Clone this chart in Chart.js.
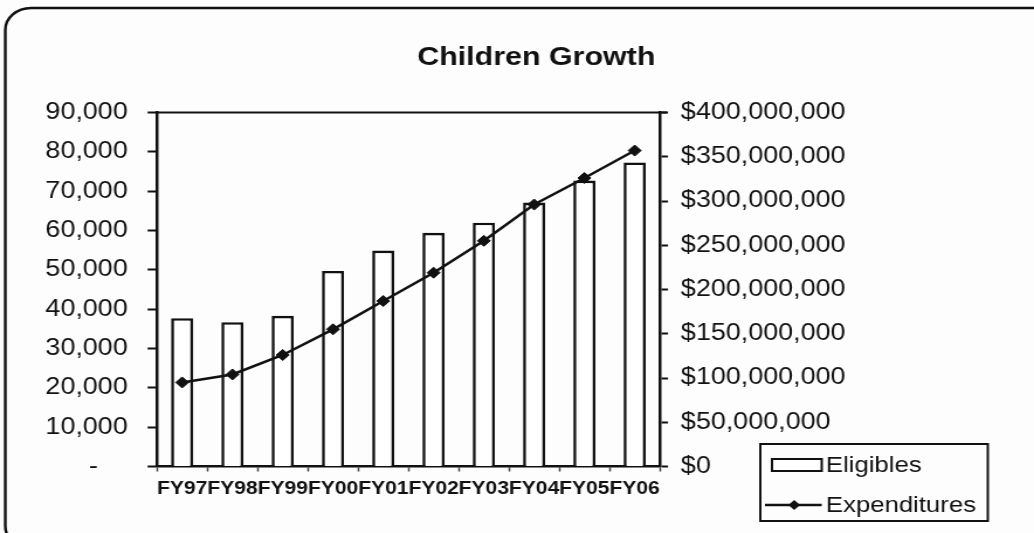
<!DOCTYPE html>
<html><head><meta charset="utf-8">
<script src="https://cdn.jsdelivr.net/npm/chart.js@4.4.1/dist/chart.umd.min.js"></script>
<style>
html,body{margin:0;padding:0;background:#fff;overflow:hidden;}
#c{display:block;transform-origin:0 0;transform:scaleX(1.1697);}
</style></head><body>
<canvas id="c" width="884" height="533"></canvas>
<script>
const categories = ['FY97','FY98','FY99','FY00','FY01','FY02','FY03','FY04','FY05','FY06'];
const eligibles = [37700, 36700, 38300, 49700, 54900, 59400, 62000, 67100, 72700, 77300];
const expenditures = [95000000, 104000000, 126000000, 155000000, 187000000, 219000000, 255000000, 296000000, 326000000, 357000000];
const leftAxisMax = 90000, leftAxisStep = 10000;
const rightAxisMax = 400000000, rightAxisStep = 50000000;
const titleText = 'Children Growth';

const FONT = "'Liberation Sans', Arial, Helvetica, sans-serif";
const INK = '#111';

const decor = {
  id: 'decor',
  beforeDraw(chart) {
    const c = chart.ctx;
    c.save();
    c.fillStyle = '#fdfdfd';
    c.fillRect(0, 0, chart.width, chart.height);
    c.restore();
  },
  beforeDatasetsDraw(chart) {
    const c = chart.ctx, a = chart.chartArea;
    c.save();
    c.strokeStyle = INK;
    c.lineWidth = 2.2;
    c.beginPath();
    c.moveTo(a.left, a.top);
    c.lineTo(a.right + 6, a.top);
    c.stroke();
    c.restore();
  },
  afterDraw(chart) {
    const c = chart.ctx;
    c.save();
    // outer rounded frame
    c.strokeStyle = INK;
    c.lineWidth = 2.4;
    c.beginPath();
    c.roundRect(4.5, 8, 1000, 540, 22);
    c.stroke();
    // legend
    const lx = 650, ly = 444, lw = 194.5, lh = 77;
    c.fillStyle = '#fdfdfd';
    c.fillRect(lx, ly, lw, lh);
    c.lineWidth = 2;
    c.strokeRect(lx, ly, lw, lh);
    // Eligibles swatch
    c.fillStyle = '#fff';
    c.fillRect(660, 459, 42.5, 12);
    c.lineWidth = 2;
    c.strokeRect(660, 459, 42.5, 12);
    // Expenditures swatch
    c.lineWidth = 2.5;
    c.beginPath();
    c.moveTo(654, 505);
    c.lineTo(702.5, 505);
    c.stroke();
    c.fillStyle = INK;
    c.beginPath();
    c.moveTo(679, 500); c.lineTo(684, 505); c.lineTo(679, 510); c.lineTo(674, 505);
    c.closePath(); c.fill();
    // legend labels
    c.fillStyle = INK;
    c.font = '22px ' + FONT;
    c.textBaseline = 'middle';
    c.textAlign = 'left';
    c.fillText('Eligibles', 706, 466);
    c.fillText('Expenditures', 706, 506);
    c.restore();
  }
};

new Chart(document.getElementById('c').getContext('2d'), {
  data: {
    labels: categories,
    datasets: [
      {
        type: 'line', label: 'Expenditures', data: expenditures, yAxisID: 'y1',
        borderColor: INK, borderWidth: 2.5, tension: 0,
        pointStyle: 'rectRot', pointRadius: 5.5,
        pointBackgroundColor: INK, pointBorderColor: INK, pointBorderWidth: 1,
        order: 0
      },
      {
        type: 'bar', label: 'Eligibles', data: eligibles, yAxisID: 'y',
        backgroundColor: '#fff', borderColor: INK, borderWidth: 2.6,
        barPercentage: 0.44, categoryPercentage: 1, order: 1
      }
    ]
  },
  options: {
    responsive: false,
    animation: false,
    layout: { padding: { left: 33, right: 0, top: 0, bottom: 0 } },
    plugins: {
      legend: { display: false },
      tooltip: { enabled: false },
      title: {
        display: true, text: titleText, color: INK,
        font: { family: FONT, size: 26, weight: 'bold', lineHeight: 1.2 },
        padding: { top: 42.4, bottom: 38.9 }
      }
    },
    scales: {
      x: {
        grid: { display: true, drawOnChartArea: false, offset: true, tickLength: 5, color: '#444', tickWidth: 1.5 },
        border: { display: true, color: INK, width: 2.5 },
        ticks: { color: INK, font: { family: FONT, size: 18, weight: 'bold' }, padding: 7, maxRotation: 0, autoSkip: false },
        afterFit(s) { s.height = 66.5; }
      },
      y: {
        position: 'left', min: 0, max: leftAxisMax,
        ticks: {
          stepSize: leftAxisStep, color: INK, font: { family: FONT, size: 23 }, padding: 17,
          callback: v => v === 0 ? '-    ' : v.toLocaleString('en-US')
        },
        grid: { drawOnChartArea: false, tickLength: 8, color: INK, tickWidth: 2 },
        border: { display: true, color: INK, width: 2.5 },
        afterFit(s) { s.width = 101.2; }
      },
      y1: {
        position: 'right', min: 0, max: rightAxisMax,
        ticks: {
          stepSize: rightAxisStep, color: INK, font: { family: FONT, size: 23 }, padding: 11,
          callback: v => '$' + v.toLocaleString('en-US')
        },
        grid: { drawOnChartArea: false, tickLength: 7, color: INK, tickWidth: 2 },
        border: { display: true, color: INK, width: 2.5 },
        afterFit(s) { s.width = 319.9; }
      }
    }
  },
  plugins: [decor]
});
</script>
</body></html>
